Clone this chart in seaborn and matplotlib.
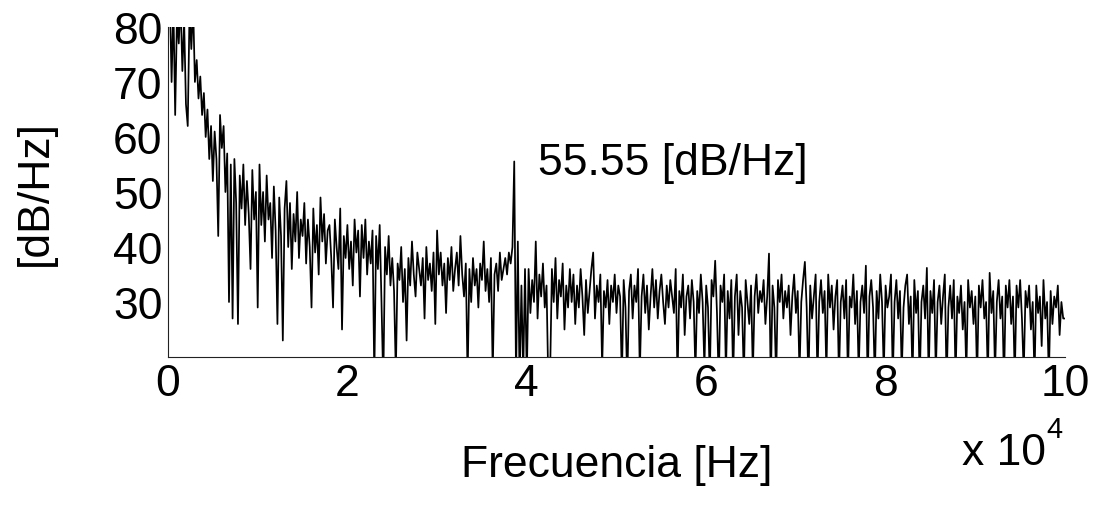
import numpy as np
import matplotlib
matplotlib.use("Agg")
import matplotlib.pyplot as plt
import seaborn as sns
import pandas as pd

# ---- data: power spectral density [dB/Hz], bins every 200 Hz from 0 to 100 kHz ----
freq_step_hz = 200
db_0_5k = [80, 86, 70, 84, 64, 82, 77, 85, 72, 81, 66, 62, 83, 76, 84, 70, 74, 67, 71, 64, 68, 60, 65, 56, 62]
db_5_10k = [52, 61, 56, 42, 64, 58, 62, 50, 57, 30, 55, 27, 56, 48, 26, 53, 47, 55, 44, 52, 46, 36, 54, 45, 50]
db_10_15k = [29, 55, 44, 50, 41, 53, 45, 48, 38, 51, 43, 26, 49, 42, 23, 47, 52, 40, 48, 36, 46, 41, 50, 38, 45]
db_15_20k = [42, 48, 37, 45, 40, 29, 47, 39, 44, 35, 49, 41, 46, 37, 43, 44, 38, 29, 45, 40, 36, 47, 25, 42, 38]
db_20_25k = [44, 36, 41, 33, 45, 39, 43, 31, 44, 38, 45, 35, 41, 37, 43, 16, 42, 36, 44, 30, 15, 40, 35, 42, 33]
db_25_30k = [38, 32, 17, 37, 34, 40, 30, 36, 23, 38, 33, 41, 35, 31, 39, 36, 33, 38, 27, 40, 34, 37, 32, 39, 26]
db_30_35k = [43, 35, 39, 33, 37, 28, 38, 34, 40, 32, 36, 39, 33, 42, 35, 31, 37, 16, 36, 30, 38, 33, 36, 29, 37]
db_35_40k = [34, 41, 32, 36, 30, 38, 17, 35, 37, 32, 39, 34, 36, 38, 35, 39, 37, 40, 55.55, 16, 41, 15, 33, 17, 36]
db_40_45k = [16, 36, 28, 34, 30, 41, 27, 35, 31, 37, 29, 33, 15, 17, 36, 30, 38, 27, 34, 31, 37, 25, 33, 29, 36]
db_45_50k = [30, 35, 26, 33, 29, 36, 31, 24, 34, 28, 32, 36, 39, 27, 33, 30, 35, 18, 32, 29, 34, 26, 33, 30, 35]
db_50_55k = [28, 33, 31, 16, 34, 29, 15, 32, 35, 27, 33, 30, 36, 17, 31, 35, 28, 33, 25, 31, 36, 29, 34, 27, 32]
db_55_60k = [35, 30, 26, 33, 29, 34, 31, 28, 36, 16, 32, 29, 35, 24, 31, 33, 27, 34, 30, 17, 32, 28, 35, 30, 18]
db_60_65k = [33, 29, 16, 34, 31, 37.5, 28, 15, 33, 30, 35, 17, 32, 27, 34, 16, 31, 35, 24, 32, 29, 16, 34, 30, 26]
db_65_70k = [33, 17, 31, 35, 28, 32, 30, 34, 26, 31, 38.8, 15, 33, 29, 16, 34, 30, 35, 27, 32, 29, 33, 24, 31, 35]
db_70_75k = [28, 32, 17, 30, 34, 37.3, 29, 15, 33, 27, 31, 35, 16, 30, 34, 28, 32, 17, 35, 29, 33, 25, 31, 34, 16]
db_75_80k = [30, 33, 27, 34, 16, 31, 29, 35, 26, 32, 17, 30, 33, 28, 36.6, 15, 31, 34, 29, 16, 32, 27, 35, 30, 17]
db_80_85k = [33, 29, 31, 35, 16, 30, 34, 27, 32, 17, 29, 33, 35, 26, 31, 16, 34, 28, 32, 15, 30, 33, 27, 36.2, 16]
db_85_90k = [32, 28, 34, 17, 30, 33, 26, 31, 35, 15, 29, 33, 27, 34, 16, 31, 28, 33, 25, 30, 17, 34, 29, 32, 26]
db_90_95k = [31, 16, 33, 29, 34, 27, 30, 16, 35.3, 28, 32, 17, 30, 34, 27, 31, 15, 33, 29, 34, 26, 31, 16, 33, 29]
db_95_100k = [34, 27, 17, 32, 29, 33, 25, 30, 16, 33, 28, 31, 22, 34, 27, 30, 16, 32, 26, 31, 29, 33, 24, 30, 27, 27]

x_ticks = [0, 20000, 40000, 60000, 80000, 100000]
x_tick_labels = ["0", "2", "4", "6", "8", "10"]
y_ticks = [30, 40, 50, 60, 70, 80]
y_tick_labels = ["30", "40", "50", "60", "70", "80"]
peak_label = "55.55 [dB/Hz]"
x_label = "Frecuencia [Hz]"
y_label = "[dB/Hz]"

db = (db_0_5k + db_5_10k + db_10_15k + db_15_20k + db_20_25k + db_25_30k + db_30_35k
      + db_35_40k + db_40_45k + db_45_50k + db_50_55k + db_55_60k + db_60_65k + db_65_70k
      + db_70_75k + db_75_80k + db_80_85k + db_85_90k + db_90_95k + db_95_100k)
freq = [i * freq_step_hz for i in range(len(db))]
df = pd.DataFrame({"freq": freq, "db": db})

sns.set_style("white")
plt.rcParams["font.family"] = ["Liberation Sans", "DejaVu Sans"]
for k in ["text.color", "axes.labelcolor", "xtick.color", "ytick.color"]:
    plt.rcParams[k] = "black"

FS = 32
W, H = 1099, 510
fig = plt.figure(figsize=(W / 100, H / 100), dpi=100)
L, R, T, B = 168, 1065, 28, 358
ax = fig.add_axes([L / W, 1 - B / H, (R - L) / W, (B - T) / H])

sns.lineplot(data=df, x="freq", y="db", ax=ax, color="black", linewidth=1.25)

ax.set_xlim(0, 100000)
ax.set_ylim(20, 80)
ax.set_xticks(x_ticks)
ax.set_xticklabels(x_tick_labels)
ax.set_yticks(y_ticks)
ax.set_yticklabels(y_tick_labels)
ax.tick_params(axis="both", direction="in", length=5, width=0.8, labelsize=FS, colors="black")
ax.tick_params(axis="x", pad=4)
ax.tick_params(axis="y", pad=4)
for s in ["top", "right"]:
    ax.spines[s].set_visible(False)
for s in ["left", "bottom"]:
    ax.spines[s].set_color("#222222")
    ax.spines[s].set_linewidth(0.8)

ax.set_xlabel(x_label, fontsize=FS, va="center")
ax.xaxis.set_label_coords(0.5, (B - 466) / (B - T))
ax.set_ylabel(y_label, fontsize=FS, va="center")
ax.yaxis.set_label_coords((35 - L) / (R - L), 0.5)

ax.text(41300, 80 - (164 - T) / 5.5, peak_label, fontsize=FS, ha="left", va="center")
fig.text(962 / W, 1 - 465 / H, "x 10", fontsize=FS, ha="left", va="baseline")
fig.text(1046 / W, 1 - 438 / H, "4", fontsize=21, ha="left", va="baseline")

fig.savefig("out.png", dpi=100)
